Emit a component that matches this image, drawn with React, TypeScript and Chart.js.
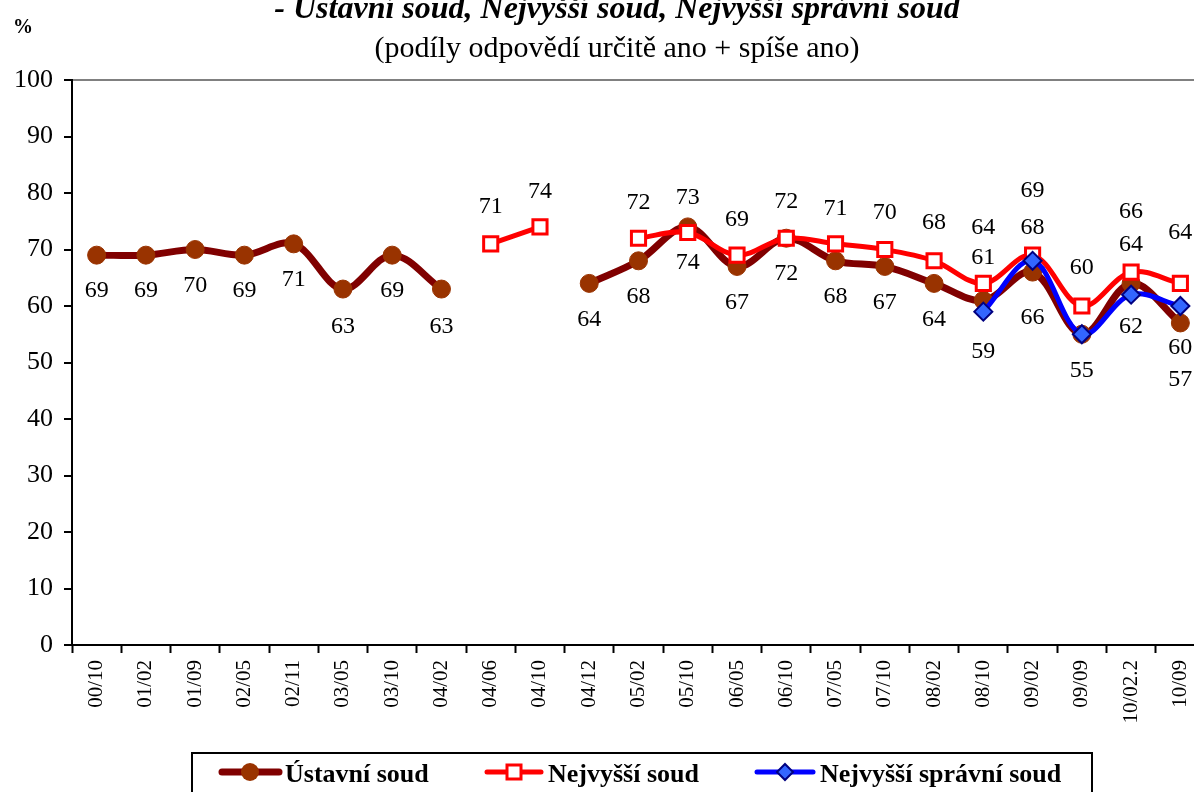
import React, { useEffect, useRef } from "react";
import { Chart, registerables } from "chart.js";

Chart.register(...registerables);

const FONT = "'Liberation Serif', 'Times New Roman', serif";

const categories = [
  "00/10", "01/02", "01/09", "02/05", "02/11", "03/05", "03/10", "04/02",
  "04/06", "04/10", "04/12", "05/02", "05/10", "06/05", "06/10", "07/05",
  "07/10", "08/02", "08/10", "09/02", "09/09", "10/02.2", "10/09",
];

const ustavniSoud = [69, 69, 70, 69, 71, 63, 69, 63, null, null, 64, 68, 74, 67, 72, 68, 67, 64, 61, 66, 55, 64, 57];
const nejvyssiSoud = [null, null, null, null, null, null, null, null, 71, 74, null, 72, 73, 69, 72, 71, 70, 68, 64, 69, 60, 66, 64];
const nejvyssiSpravniSoud = [null, null, null, null, null, null, null, null, null, null, null, null, null, null, null, null, null, null, 59, 68, 55, 62, 60];

// data label vertical offsets (px) relative to point, null = no label
const ustavniLabelDy = [36, 36, 36, 36, 36, 38, 36, 38, null, null, 36, 36, 36, 36, 36, 36, 36, 36, -43, 46, 36, -39, 57];
const nejvyssiLabelDy = [null, null, null, null, null, null, null, null, -37, -35, null, -35, -35, -35, -36, -35, -37, -38, -56, -64, -38, -60, -51];
const nssLabelDy = [null, null, null, null, null, null, null, null, null, null, null, null, null, null, null, null, null, null, 40, -33, null, 32, 42];

const yTicks = [0, 10, 20, 30, 40, 50, 60, 70, 80, 90, 100];

const titleText = "- Ústavní soud, Nejvyšší soud, Nejvyšší správní soud";
const subtitleText = "(podíly odpovědí určitě ano + spíše ano)";
const legendNames = ["Ústavní soud", "Nejvyšší soud", "Nejvyšší správní soud"];

const labelOffsets = [ustavniLabelDy, nejvyssiLabelDy, nssLabelDy];

const dataLabelPlugin = {
  id: "dataLabels",
  afterDatasetsDraw(chart: any) {
    const ctx = chart.ctx;
    ctx.save();
    ctx.font = `24px ${FONT}`;
    ctx.fillStyle = "#000";
    ctx.textAlign = "center";
    ctx.textBaseline = "middle";
    chart.data.datasets.forEach((ds: any, di: number) => {
      const meta = chart.getDatasetMeta(di);
      ds.data.forEach((v: number | null, i: number) => {
        const dy = labelOffsets[di][i];
        if (v == null || dy == null) return;
        const el = meta.data[i];
        ctx.fillText(String(v), el.x, el.y + dy);
      });
    });
    ctx.restore();
  },
};

const decorPlugin = {
  id: "decor",
  afterDraw(chart: any) {
    const ctx = chart.ctx;
    ctx.save();
    // title
    ctx.fillStyle = "#000";
    ctx.textAlign = "center";
    ctx.textBaseline = "alphabetic";
    ctx.font = `italic bold 32px ${FONT}`;
    ctx.fillText(titleText, 617, 18);
    ctx.font = `30px ${FONT}`;
    ctx.fillText(subtitleText, 617, 57);
    ctx.font = `bold 20px ${FONT}`;
    ctx.fillText("%", 23, 33);

    // legend box
    ctx.strokeStyle = "#000";
    ctx.lineWidth = 2;
    ctx.strokeRect(192, 753, 900, 80);

    const ly = 772;
    ctx.lineCap = "round";
    // item 1
    ctx.strokeStyle = "#800000";
    ctx.lineWidth = 7;
    ctx.beginPath();
    ctx.moveTo(222, ly);
    ctx.lineTo(279, ly);
    ctx.stroke();
    ctx.fillStyle = "#993300";
    ctx.beginPath();
    ctx.arc(250, ly, 9, 0, Math.PI * 2);
    ctx.fill();
    // item 2
    ctx.strokeStyle = "#ff0000";
    ctx.lineWidth = 5;
    ctx.beginPath();
    ctx.moveTo(487, ly);
    ctx.lineTo(541, ly);
    ctx.stroke();
    ctx.fillStyle = "#fff";
    ctx.lineWidth = 3;
    ctx.fillRect(507, ly - 7, 14, 14);
    ctx.strokeRect(507, ly - 7, 14, 14);
    // item 3
    ctx.strokeStyle = "#0000ff";
    ctx.lineWidth = 5;
    ctx.beginPath();
    ctx.moveTo(757, ly);
    ctx.lineTo(813, ly);
    ctx.stroke();
    ctx.fillStyle = "#3366ff";
    ctx.strokeStyle = "#000080";
    ctx.lineWidth = 2;
    ctx.beginPath();
    ctx.moveTo(785, ly - 8);
    ctx.lineTo(793, ly);
    ctx.lineTo(785, ly + 8);
    ctx.lineTo(777, ly);
    ctx.closePath();
    ctx.fill();
    ctx.stroke();

    ctx.fillStyle = "#000";
    ctx.textAlign = "left";
    ctx.font = `bold 26px ${FONT}`;
    ctx.fillText(legendNames[0], 285, 782);
    ctx.fillText(legendNames[1], 548, 782);
    ctx.fillText(legendNames[2], 820, 782);
    ctx.restore();
  },
};

export default function App() {
  const ref = useRef<HTMLCanvasElement | null>(null);

  useEffect(() => {
    if (!ref.current) return;
    const chart = new Chart(ref.current, {
      type: "line",
      data: {
        labels: categories,
        datasets: [
          {
            label: legendNames[0],
            data: ustavniSoud,
            order: 3,
            borderColor: "#800000",
            borderWidth: 7,
            pointStyle: "circle",
            pointRadius: 9,
            pointBackgroundColor: "#993300",
            pointBorderColor: "#993300",
            pointBorderWidth: 1,
            tension: 0.35,
            spanGaps: false,
          },
          {
            label: legendNames[1],
            data: nejvyssiSoud,
            order: 2,
            borderColor: "#ff0000",
            borderWidth: 5,
            pointStyle: "rect",
            pointRadius: 10,
            pointBackgroundColor: "#ffffff",
            pointBorderColor: "#ff0000",
            pointBorderWidth: 3,
            tension: 0.35,
            spanGaps: false,
          },
          {
            label: legendNames[2],
            data: nejvyssiSpravniSoud,
            order: 1,
            borderColor: "#0000ff",
            borderWidth: 5,
            pointStyle: "rectRot",
            pointRadius: 9,
            pointBackgroundColor: "#3366ff",
            pointBorderColor: "#000080",
            pointBorderWidth: 2,
            tension: 0.35,
            spanGaps: false,
          },
        ],
      },
      options: {
        animation: false,
        responsive: false,
        layout: { padding: { left: 0, top: 80, right: 25, bottom: 0 } },
        plugins: {
          legend: { display: false },
          title: { display: false },
          tooltip: { enabled: false },
        },
        scales: {
          x: {
            type: "category",
            offset: true,
            afterFit: (s: any) => {
              s.height = 147;
            },
            grid: {
              offset: true,
              color: "rgba(0,0,0,0)",
              tickColor: "#000",
              tickLength: 8,
              tickWidth: 2,
            },
            border: { display: true, color: "#000", width: 2 },
            ticks: {
              autoSkip: false,
              minRotation: 90,
              maxRotation: 90,
              padding: 7,
              color: "#000",
              font: { family: FONT, size: 21 },
            },
          },
          y: {
            min: 0,
            max: 100,
            afterFit: (s: any) => {
              s.width = 72;
            },
            afterBuildTicks: (s: any) => {
              s.ticks = yTicks.map((v) => ({ value: v }));
            },
            grid: {
              color: (c: any) => (c.tick && c.tick.value === 100 ? "#808080" : "rgba(0,0,0,0)"),
              lineWidth: 2,
              tickColor: "#000",
              tickLength: 8,
              tickWidth: 2,
            },
            border: { display: true, color: "#000", width: 2 },
            ticks: {
              padding: 11,
              color: "#000",
              font: { family: FONT, size: 26 },
            },
          },
        },
      },
      plugins: [dataLabelPlugin, decorPlugin],
    } as any);
    return () => chart.destroy();
  }, []);

  return (
    <div style={{ position: "fixed", left: 0, top: 0, width: 1194, height: 792, overflow: "hidden", background: "#fff" }}>
      <canvas ref={ref} width={1230} height={792} style={{ display: "block", width: 1230, height: 792 }} />
    </div>
  );
}
